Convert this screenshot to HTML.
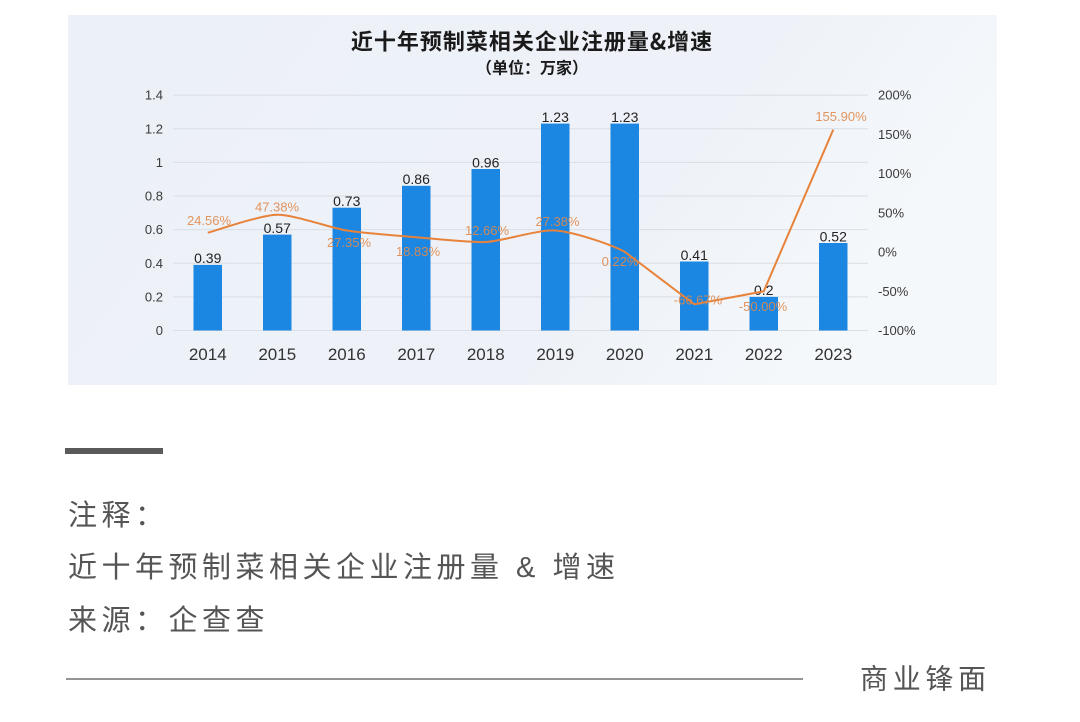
<!DOCTYPE html>
<html>
<head>
<meta charset="utf-8">
<style>
  html, body { margin: 0; padding: 0; background: #ffffff; }
  body { width: 1080px; height: 722px; overflow: hidden; }
  svg { display: block; }
  text { font-family: "Liberation Sans", "Noto Sans CJK SC", sans-serif; }
</style>
</head>
<body>
<svg width="1080" height="722" viewBox="0 0 1080 722" xmlns="http://www.w3.org/2000/svg">
  <defs>
    <linearGradient id="bg" x1="0" y1="0" x2="1" y2="0.3">
      <stop offset="0" stop-color="#ecf0f7"/>
      <stop offset="0.7" stop-color="#eef2f8"/>
      <stop offset="1" stop-color="#f5f8fb"/>
    </linearGradient>
  </defs>
  <rect x="0" y="0" width="1080" height="722" fill="#ffffff"/>
  <rect x="68" y="15" width="929" height="370" fill="url(#bg)"/>

  <!-- Title -->
  <text x="532" y="49.5" text-anchor="middle" font-size="22" font-weight="bold" fill="#1a1a1a" letter-spacing="1" style="font-family:'Noto Sans CJK SC','Liberation Sans',sans-serif">近十年预制菜相关企业注册量&amp;增速</text>
  <text x="532" y="73.5" text-anchor="middle" font-size="16" font-weight="bold" fill="#1a1a1a" style="font-family:'Noto Sans CJK SC','Liberation Sans',sans-serif">（单位：万家）</text>

  <!-- Gridlines -->
  <g stroke="#dadee5" stroke-width="1">
    <line x1="173" y1="95.1" x2="868" y2="95.1"/>
    <line x1="173" y1="128.8" x2="868" y2="128.8"/>
    <line x1="173" y1="162.4" x2="868" y2="162.4"/>
    <line x1="173" y1="196.0" x2="868" y2="196.0"/>
    <line x1="173" y1="229.6" x2="868" y2="229.6"/>
    <line x1="173" y1="263.3" x2="868" y2="263.3"/>
    <line x1="173" y1="296.9" x2="868" y2="296.9"/>
    <line x1="173" y1="330.5" x2="868" y2="330.5"/>
  </g>

  <!-- Left axis labels -->
  <g font-size="13" fill="#3a3a3a" text-anchor="end">
    <text x="163" y="99.6">1.4</text>
    <text x="163" y="133.3">1.2</text>
    <text x="163" y="166.9">1</text>
    <text x="163" y="200.5">0.8</text>
    <text x="163" y="234.1">0.6</text>
    <text x="163" y="267.8">0.4</text>
    <text x="163" y="301.4">0.2</text>
    <text x="163" y="335.0">0</text>
  </g>

  <!-- Right axis labels -->
  <g font-size="13" fill="#3a3a3a" text-anchor="start">
    <text x="878" y="99.6">200%</text>
    <text x="878" y="138.8">150%</text>
    <text x="878" y="178.1">100%</text>
    <text x="878" y="217.4">50%</text>
    <text x="878" y="256.6">0%</text>
    <text x="878" y="295.9">-50%</text>
    <text x="878" y="335.0">-100%</text>
  </g>

  <!-- Bars -->
  <g fill="#1b87e3">
    <rect x="193.5" y="264.9" width="28.5" height="65.6"/>
    <rect x="263.0" y="234.6" width="28.5" height="95.9"/>
    <rect x="332.5" y="207.7" width="28.5" height="122.8"/>
    <rect x="402.0" y="185.8" width="28.5" height="144.7"/>
    <rect x="471.5" y="169.0" width="28.5" height="161.5"/>
    <rect x="541.0" y="123.6" width="28.5" height="206.9"/>
    <rect x="610.5" y="123.6" width="28.5" height="206.9"/>
    <rect x="680.0" y="261.5" width="28.5" height="69.0"/>
    <rect x="749.5" y="296.9" width="28.5" height="33.6"/>
    <rect x="819.0" y="243.0" width="28.5" height="87.5"/>
  </g>

  <!-- Bar value labels -->
  <g font-size="14" fill="#222" text-anchor="middle">
    <text x="207.75" y="263.2">0.39</text>
    <text x="277.25" y="232.9">0.57</text>
    <text x="346.75" y="206.0">0.73</text>
    <text x="416.25" y="184.1">0.86</text>
    <text x="485.75" y="167.3">0.96</text>
    <text x="555.25" y="121.9">1.23</text>
    <text x="624.75" y="121.9">1.23</text>
    <text x="694.25" y="259.8">0.41</text>
    <text x="763.75" y="295.2">0.2</text>
    <text x="833.25" y="241.3">0.52</text>
  </g>

  <!-- Growth line -->
  <path d="M207.75,232.7 C216.05,230.55 260.55,215.06 277.25,214.8 C293.95,214.54 330.05,227.81 346.75,230.5 C363.45,233.19 399.55,235.82 416.25,237.2 C432.95,238.58 469.05,242.8 485.75,242.0 C502.45,241.2 538.55,229.32 555.25,230.5 C571.95,231.68 608.05,242.94 624.75,251.8 L694.25,304.3 L763.75,291.3 L833.25,129.6" fill="none" stroke="#e8823a" stroke-width="2" stroke-linejoin="round"/>

  <!-- Line labels -->
  <g font-size="13" fill="#e08a4c" fill-opacity="0.9" text-anchor="middle">
    <text x="209" y="225">24.56%</text>
    <text x="277" y="211.5">47.38%</text>
    <text x="349" y="247">27.35%</text>
    <text x="418" y="256">18.83%</text>
    <text x="487" y="235">12.66%</text>
    <text x="557.5" y="226">27.38%</text>
    <text x="620" y="266">0.22%</text>
    <text x="698" y="304.5">-66.67%</text>
    <text x="763" y="311">-50.00%</text>
    <text x="841" y="121">155.90%</text>
  </g>

  <!-- Year labels -->
  <g font-size="17" fill="#333" text-anchor="middle">
    <text x="207.75" y="360">2014</text>
    <text x="277.25" y="360">2015</text>
    <text x="346.75" y="360">2016</text>
    <text x="416.25" y="360">2017</text>
    <text x="485.75" y="360">2018</text>
    <text x="555.25" y="360">2019</text>
    <text x="624.75" y="360">2020</text>
    <text x="694.25" y="360">2021</text>
    <text x="763.75" y="360">2022</text>
    <text x="833.25" y="360">2023</text>
  </g>

  <!-- Bottom section -->
  <rect x="65" y="448" width="98" height="6" fill="#5a5a5a"/>
  <g font-size="29" fill="#555" letter-spacing="4.5" style="font-family:'Noto Sans CJK SC','Liberation Sans',sans-serif">
    <text x="68" y="525">注释：</text>
    <text x="68" y="577">近十年预制菜相关企业注册量 &amp; 增速</text>
    <text x="68" y="630">来源：企查查</text>
  </g>
  <line x1="66" y1="679" x2="803" y2="679" stroke="#707070" stroke-width="1.5"/>
  <text x="860" y="688.5" font-size="28" fill="#555" letter-spacing="4.7" style="font-family:'Noto Sans CJK SC','Liberation Sans',sans-serif">商业锋面</text>
</svg>
</body>
</html>
